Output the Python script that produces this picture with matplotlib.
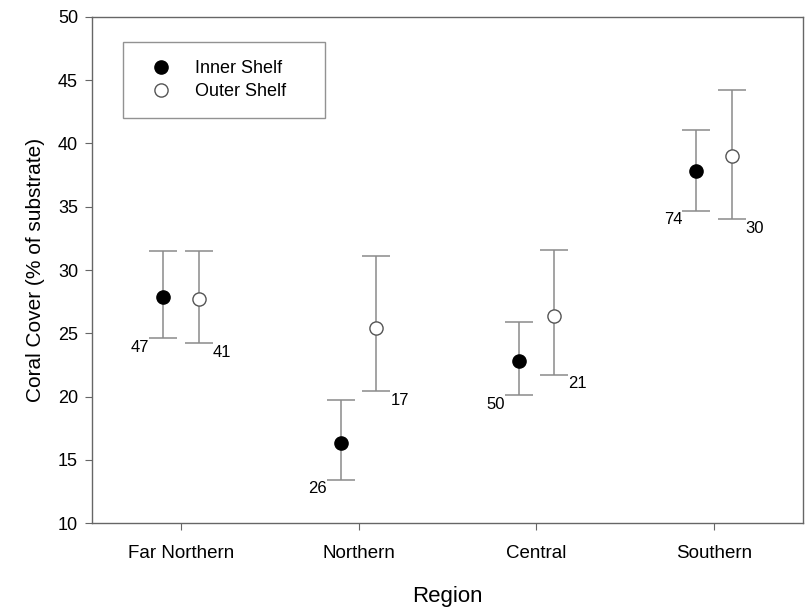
import matplotlib
matplotlib.use("Agg")
import matplotlib.pyplot as plt
import numpy as np

plt.rcParams['font.family'] = ['Liberation Sans', 'DejaVu Sans']

regions = ["Far Northern", "Northern", "Central", "Southern"]

inner_mean = [27.9, 16.3, 22.8, 37.85]
inner_low = [24.6, 13.4, 20.1, 34.7]
inner_high = [31.5, 19.7, 25.9, 41.1]
inner_n = [47, 26, 50, 74]

outer_mean = [27.7, 25.4, 26.4, 39.0]
outer_low = [24.2, 20.4, 21.7, 34.0]
outer_high = [31.5, 31.1, 31.6, 44.2]
outer_n = [41, 17, 21, 30]

x = np.arange(len(regions))
off = 0.1

fig = plt.figure(figsize=(8.11, 6.09), dpi=100)
ax = fig.add_axes([0.1134, 0.1412, 0.8767, 0.8309])

def draw(xs, mean, low, high, face, label):
    mean = np.array(mean)
    yerr = [mean - np.array(low), np.array(high) - mean]
    ax.errorbar(xs, mean, yerr=yerr, fmt='none', ecolor='#8a8a8a',
                elinewidth=1.1, capsize=10, capthick=1.1, zorder=2)
    ax.plot(xs, mean, 'o', ms=9.5, mfc=face, mec='#555555' if face == 'white' else 'black',
            mew=1.0, ls='none', label=label, zorder=3)

draw(x - off, inner_mean, inner_low, inner_high, 'black', 'Inner Shelf')
draw(x + off, outer_mean, outer_low, outer_high, 'white', 'Outer Shelf')

# sample sizes next to the lower caps
for i in range(len(regions)):
    ax.annotate(str(inner_n[i]), (x[i] - off, inner_low[i]), xytext=(-10, -1),
                textcoords='offset points', ha='right', va='top', fontsize=12)
    ax.annotate(str(outer_n[i]), (x[i] + off, outer_low[i]), xytext=(10, -1),
                textcoords='offset points', ha='left', va='top', fontsize=12)

ax.set_xlim(-0.5, 3.5)
ax.set_ylim(10, 50)
ax.set_yticks(np.arange(10, 51, 5))
ax.set_xticks(x)
ax.set_xticklabels(regions, fontsize=13.5)
ax.tick_params(axis='y', labelsize=13, direction='out', length=5, color='#666666', pad=5)
ax.tick_params(axis='x', direction='out', length=5, color='#666666', pad=11)
for s in ax.spines.values():
    s.set_color('#666666')
    s.set_linewidth(1.0)

ax.set_xlabel("Region", fontsize=16, labelpad=17)
ax.set_ylabel("Coral Cover (% of substrate)", fontsize=15, labelpad=9)

leg = ax.legend(loc='upper left', bbox_to_anchor=(0.044, 0.0, 0.284, 0.951),
                mode='expand', borderaxespad=0,
                fontsize=13, frameon=True, fancybox=False, borderpad=1.0,
                handlelength=2.2, handletextpad=0.8, labelspacing=0.35)
leg.get_frame().set_edgecolor('#777777')
leg.get_frame().set_linewidth(1.0)

fig.savefig("out.png", dpi=100)
